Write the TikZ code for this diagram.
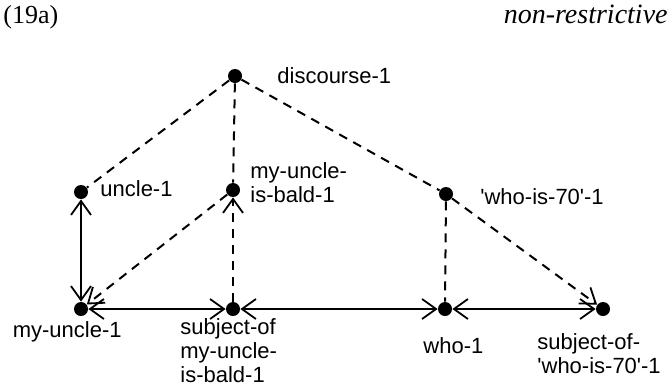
\documentclass[tikz,border=0pt]{standalone}
\usepackage{fontspec}
\setmainfont{Liberation Serif}
\setsansfont{Liberation Sans}
\usetikzlibrary{calc,arrows.meta}

\begin{document}
\begin{tikzpicture}[x=0.5pt,y=-0.5pt,
  dot/.style={circle,fill,inner sep=0pt,minimum size=7pt},
  lbl/.style={font=\sffamily\fontsize{11}{12}\selectfont,inner sep=0pt,align=left},
  rel/.style={line width=1pt,dash pattern=on 4.5pt off 3.5pt},
  link/.style={line width=0.8pt},
  barb/.style={-{Straight Barb[length=7pt,width=10pt,line width=0.9pt]}},
  barbs/.style={{Straight Barb[length=7pt,width=10pt,line width=0.9pt]}-{Straight Barb[length=7pt,width=10pt,line width=0.9pt]}}]
\useasboundingbox (0,0) rectangle (672,386);

\node [anchor=base west,inner sep=0pt,font=\fontsize{13}{15}\selectfont](num) at (3,23){(19a)};
\node [anchor=base east,inner sep=0pt,font=\fontsize{14}{16}\selectfont\itshape](kind) at (668,23){non-restrictive};

\node [dot](disc) at (235,76){};
\node [dot](uncle) at (81,192){};
\node [dot](bald) at (233,190){};
\node [dot](who70) at (446,194){};
\node [dot](myuncle) at (81,309){};
\node [dot](subjbald) at (233,309){};
\node [dot](who) at (445,309){};
\node [dot](subjwho) at (603,309){};

% multi-line labels sit on the baseline of their last line
\node [lbl,anchor=base west](disc-l) at ($ (disc)+(42,7) $){discourse-1};
\node [lbl,anchor=base west](uncle-l) at ($ (uncle)+(19,4) $){uncle-1};
\node [lbl,anchor=base west](bald-l) at ($ (bald)+(17,12) $){my-uncle-\\is-bald-1};
\node [lbl,anchor=base west](who70-l) at ($ (who70)+(34,10) $){\textquotesingle who-is-70\textquotesingle -1};
\node [lbl,anchor=base east](myuncle-l) at ($ (myuncle)+(41,28) $){my-uncle-1};
\node [lbl,anchor=base west](subjbald-l) at ($ (subjbald)+(-53,73) $){subject-of\\my-uncle-\\is-bald-1};
\node [lbl,anchor=base west](who-l) at ($ (who)+(-22,44) $){who-1};
\node [lbl,anchor=base west](subjwho-l) at ($ (subjwho)+(-66,64) $){subject-of-\\\textquotesingle who-is-70\textquotesingle -1};

\draw[rel] (disc) -- (uncle);
\draw[rel] (disc) -- (bald);
\draw[rel] (disc) -- (who70);
\draw[rel] (who70) -- (who);
\draw[rel,barb] (who70) -- (subjwho);
\draw[rel,barb] (subjbald) -- (bald);
\draw[rel,barb] (bald) -- (myuncle);

\draw[link,barbs] (myuncle) -- (uncle);
\draw[link,barbs] (myuncle) -- (subjbald);
\draw[link,barbs] (subjbald) -- (who);
\draw[link,barbs] (who) -- (subjwho);

\end{tikzpicture}
\end{document}
